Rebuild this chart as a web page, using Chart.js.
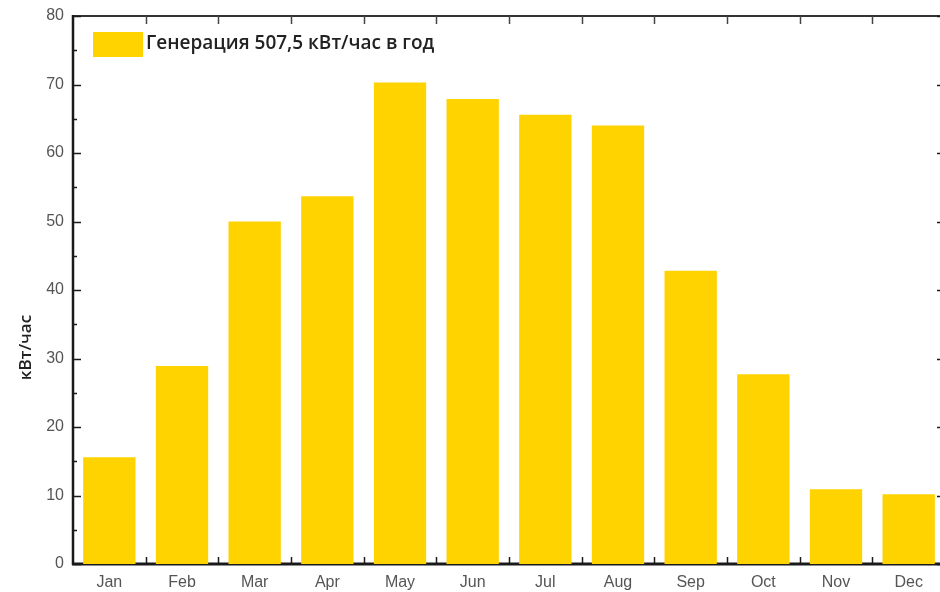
<!DOCTYPE html>
<html>
<head>
<meta charset="utf-8">
<script src="https://cdn.jsdelivr.net/npm/chart.js@4/dist/chart.umd.min.js"></script>
<style>
  html, body { margin: 0; padding: 0; background: #fff; overflow: hidden; width: 940px; height: 592px; }
  #wrap { width: 950px; height: 592px; }
</style>
</head>
<body>
<div id="wrap"><canvas id="c" width="950" height="592"></canvas></div>
<script>
// Monthly solar generation, kWh
const months = ['Jan', 'Feb', 'Mar', 'Apr', 'May', 'Jun', 'Jul', 'Aug', 'Sep', 'Oct', 'Nov', 'Dec'];
const generation = [15.6, 28.9, 50.0, 53.7, 70.3, 67.9, 65.6, 64.0, 42.8, 27.7, 10.9, 10.2];
const yMin = 0;
const yMax = 80;
const yStep = 10;
const legendLabel = 'Генерация 507,5 кВт/час в год';
const axisTitle = 'кВт/час';

const BAR = '#FFD300';
const INK = '#1a1a1a';
const TICK_FONT = { family: '"Liberation Sans Narrow", "Liberation Sans", Arial, sans-serif', size: 16 };

// Frame with inward ticks on all four sides
const framePlugin = {
  id: 'frame',
  beforeDatasetsDraw(chart) {
    const { ctx, chartArea: a, scales: { x, y } } = chart;
    ctx.save();
    ctx.lineCap = 'butt';

    // top and right borders
    ctx.lineWidth = 2;
    ctx.strokeStyle = '#333';
    ctx.beginPath(); ctx.moveTo(a.left, a.top); ctx.lineTo(a.right, a.top); ctx.stroke();
    ctx.beginPath(); ctx.moveTo(a.right, a.top); ctx.lineTo(a.right, a.bottom); ctx.stroke();
    // left border
    ctx.strokeStyle = INK;
    ctx.lineWidth = 2.5;
    ctx.beginPath(); ctx.moveTo(a.left, a.top - 1); ctx.lineTo(a.left, a.bottom + 1); ctx.stroke();
    // bottom border
    ctx.lineWidth = 3;
    ctx.beginPath(); ctx.moveTo(a.left - 1, a.bottom); ctx.lineTo(a.right, a.bottom); ctx.stroke();

    // y ticks: majors and halfway minors, both sides
    ctx.lineWidth = 1.5;
    for (let v = yMin; v <= yMax; v += yStep / 2) {
      const py = Math.round(y.getPixelForValue(v)) + 0.5;
      const major = (v % yStep) === 0;
      const len = major ? 8 : 4;
      ctx.beginPath();
      ctx.moveTo(a.left, py); ctx.lineTo(a.left + len, py);
      ctx.moveTo(a.right, py); ctx.lineTo(a.right - len, py);
      ctx.stroke();
    }

    // x ticks at category boundaries, top and bottom
    const half = (x.getPixelForValue(1) - x.getPixelForValue(0)) / 2;
    for (let i = 0; i < months.length - 1; i++) {
      const px = Math.round(x.getPixelForValue(i) + half) + 0.5;
      ctx.strokeStyle = INK;
      ctx.beginPath(); ctx.moveTo(px, a.bottom); ctx.lineTo(px, a.bottom - 7); ctx.stroke();
      ctx.strokeStyle = '#444';
      ctx.beginPath(); ctx.moveTo(px, a.top); ctx.lineTo(px, a.top + 8); ctx.stroke();
    }
    ctx.restore();
  },
  afterDraw(chart) {
    const { ctx, chartArea: a } = chart;
    ctx.save();
    // legend inside the plot, top-left
    const bx = a.left + 20, by = a.top + 16;
    ctx.fillStyle = BAR;
    ctx.fillRect(bx, by, 50, 25);
    ctx.fillStyle = '#222';
    ctx.font = '600 19px "Open Sans", sans-serif';
    ctx.textBaseline = 'middle';
    ctx.textAlign = 'left';
    ctx.fillText(chart.data.datasets[0].label, bx + 53, by + 12);

    // y axis title
    ctx.translate(26, a.top + (a.bottom - a.top) * 0.605);
    ctx.rotate(-Math.PI / 2);
    ctx.textAlign = 'center';
    ctx.fillStyle = '#222';
    ctx.font = '600 17px "Open Sans", sans-serif';
    ctx.fillText(axisTitle, 0, 0);
    ctx.restore();
  }
};

new Chart(document.getElementById('c'), {
  type: 'bar',
  data: {
    labels: months,
    datasets: [{
      label: legendLabel,
      data: generation,
      backgroundColor: BAR,
      borderWidth: 0,
      barPercentage: 0.8,
      categoryPercentage: 0.9
    }]
  },
  options: {
    responsive: false,
    animation: false,
    devicePixelRatio: 1,
    layout: { padding: { left: 0, top: 16, right: 5, bottom: 0 } },
    plugins: { legend: { display: false }, tooltip: { enabled: false } },
    scales: {
      x: {
        grid: { display: false },
        border: { display: false },
        ticks: { color: '#555', font: TICK_FONT, padding: 1, maxRotation: 0 },
        afterFit(s) { s.height = 28; }
      },
      y: {
        min: yMin,
        max: yMax,
        grid: { display: false },
        border: { display: false },
        ticks: { stepSize: yStep, color: '#555', font: TICK_FONT, padding: 1 },
        afterFit(s) { s.width = 73; }
      }
    }
  },
  plugins: [framePlugin]
});
</script>
</body>
</html>
